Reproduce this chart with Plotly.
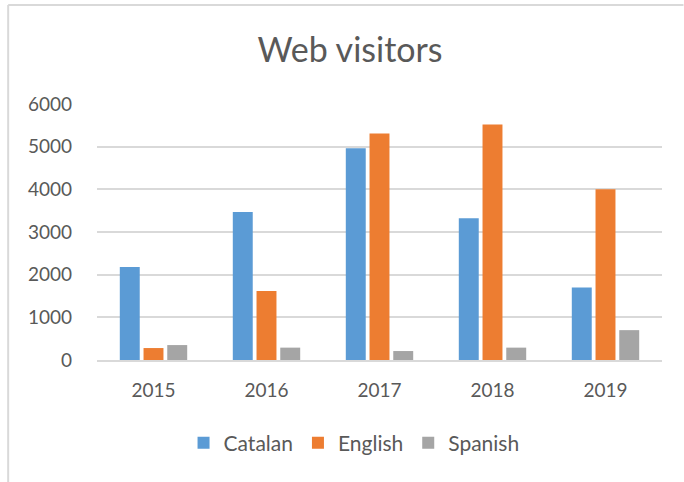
import plotly.graph_objects as go

years = ["2015", "2016", "2017", "2018", "2019"]
catalan = [2180, 3470, 4960, 3320, 1700]
english = [280, 1620, 5310, 5520, 4000]
spanish = [350, 290, 210, 290, 700]
series_names = ["Catalan", "English", "Spanish"]
colors = ["#5B9BD5", "#ED7D31", "#A5A5A5"]
y_ticks = [0, 1000, 2000, 3000, 4000, 5000, 6000]

fig = go.Figure()
for name, vals, col in zip(series_names, [catalan, english, spanish], colors):
    fig.add_trace(go.Bar(x=years, y=vals, name=name, marker=dict(color=col, line=dict(width=0))))

font_fam = "Lato, 'Open Sans', sans-serif"
W, H = 684, 482
L, R, T, B = 96.5, 21.5, 104, 122
pw = W - L - R
ph = H - T - B


def px(x):
    return (x - L) / pw


def py(y):
    return (H - B - y) / ph


fig.update_layout(
    width=W, height=H,
    margin=dict(l=L, r=R, t=T, b=B, pad=0, autoexpand=False),
    paper_bgcolor="white", plot_bgcolor="white",
    barmode="group", bargap=0.37, bargroupgap=0.16,
    title=dict(text="Web visitors", x=350 / W, xref="container", xanchor="center",
               y=1 - 50 / H, yanchor="middle", yref="container",
               font=dict(family=font_fam, size=34, color="#595959")),
    font=dict(family=font_fam, size=19, color="#595959"),
    showlegend=True,
    legend=dict(orientation="h", x=px(354), xanchor="center", y=py(443), yanchor="middle",
                font=dict(size=21, color="#595959"), traceorder="normal",
                itemwidth=30, tracegroupgap=0),
    xaxis=dict(showgrid=False, showline=True, linecolor="#D9D9D9", linewidth=2, ticks="",
               tickfont=dict(size=19, color="#595959"), ticklabelstandoff=12, fixedrange=True),
    yaxis=dict(range=[0, 6000], tickvals=y_ticks, showgrid=True, gridcolor="#D9D9D9", gridwidth=2,
               zeroline=False, showline=False, ticks="", tickfont=dict(size=19, color="#595959"),
               ticklabelstandoff=24, fixedrange=True),
)

# chart border (top and left edges visible)
fig.add_shape(type="line", xref="paper", yref="paper", x0=px(7.5), x1=px(684), y0=py(5), y1=py(5),
              line=dict(color="#D9D9D9", width=2))
fig.add_shape(type="line", xref="paper", yref="paper", x0=px(7.5), x1=px(7.5), y0=py(5), y1=py(482),
              line=dict(color="#D9D9D9", width=2))

fig.write_html("out.html", config={"displayModeBar": False},
               post_script="document.body.style.margin='0';")
